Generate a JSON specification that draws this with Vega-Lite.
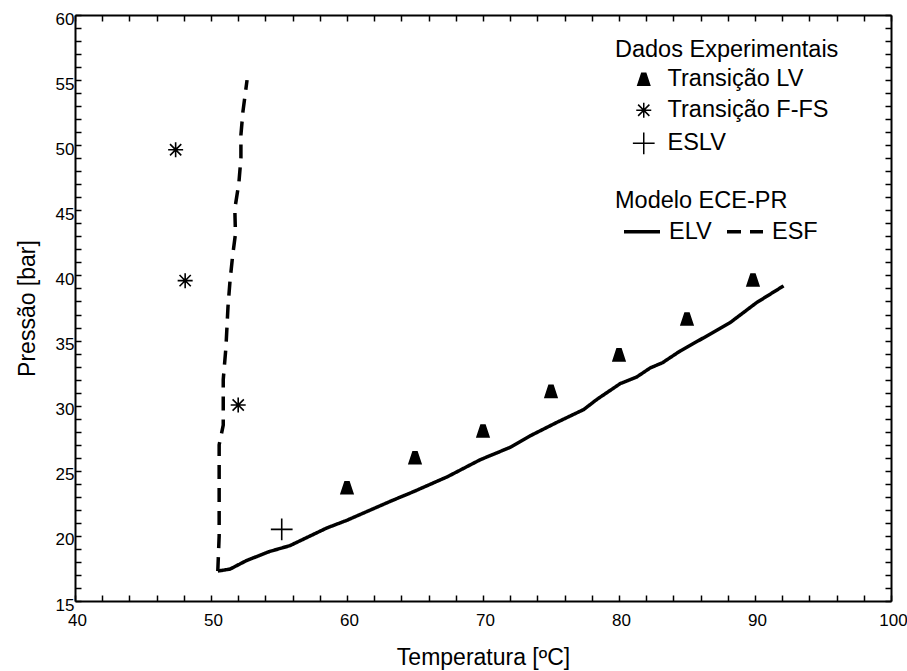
{
  "$schema": "https://vega.github.io/schema/vega-lite/v6.json",
  "width": 816,
  "height": 586,
  "autosize": "none",
  "padding": {"left": 75, "top": 15, "right": 16, "bottom": 70},
  "background": "white",
  "config": {
    "view": {"stroke": null},
    "font": "Liberation Sans",
    "axis": {
      "domainColor": "black",
      "domainWidth": 2,
      "tickColor": "black",
      "tickWidth": 1.5,
      "tickSize": -6,
      "grid": false,
      "labelFont": "Liberation Sans",
      "labelFontSize": 17,
      "labelColor": "black",
      "titleFont": "Liberation Sans",
      "titleFontSize": 23,
      "titleFontWeight": "normal",
      "titleColor": "black",
      "labelFlush": false,
      "labelOverlap": false
    },
    "legend": {
      "titleFont": "Liberation Sans",
      "titleFontSize": 23.5,
      "titleFontWeight": "normal",
      "titleColor": "black",
      "titleLimit": 400,
      "labelFont": "Liberation Sans",
      "labelFontSize": 23.5,
      "labelColor": "black",
      "labelLimit": 400,
      "padding": 0
    }
  },
  "datasets": {
    "curves": [
      {"modelo": "ELV", "T": 50.5, "P": 17.3},
      {"modelo": "ELV", "T": 51.4, "P": 17.45},
      {"modelo": "ELV", "T": 52.6, "P": 18.1},
      {"modelo": "ELV", "T": 54.3, "P": 18.8},
      {"modelo": "ELV", "T": 55.8, "P": 19.25},
      {"modelo": "ELV", "T": 57.1, "P": 19.9},
      {"modelo": "ELV", "T": 58.5, "P": 20.6},
      {"modelo": "ELV", "T": 60.0, "P": 21.2},
      {"modelo": "ELV", "T": 61.2, "P": 21.75},
      {"modelo": "ELV", "T": 63.4, "P": 22.75},
      {"modelo": "ELV", "T": 64.9, "P": 23.4},
      {"modelo": "ELV", "T": 67.4, "P": 24.55},
      {"modelo": "ELV", "T": 69.8, "P": 25.85},
      {"modelo": "ELV", "T": 72.0, "P": 26.8},
      {"modelo": "ELV", "T": 73.5, "P": 27.7},
      {"modelo": "ELV", "T": 75.4, "P": 28.7},
      {"modelo": "ELV", "T": 77.4, "P": 29.7},
      {"modelo": "ELV", "T": 78.4, "P": 30.5},
      {"modelo": "ELV", "T": 80.1, "P": 31.7},
      {"modelo": "ELV", "T": 81.3, "P": 32.2},
      {"modelo": "ELV", "T": 82.3, "P": 32.9},
      {"modelo": "ELV", "T": 83.2, "P": 33.3},
      {"modelo": "ELV", "T": 84.5, "P": 34.2},
      {"modelo": "ELV", "T": 86.2, "P": 35.2},
      {"modelo": "ELV", "T": 88.2, "P": 36.4},
      {"modelo": "ELV", "T": 90.1, "P": 37.9},
      {"modelo": "ELV", "T": 92.1, "P": 39.2},
      {"modelo": "ESF", "T": 50.5, "P": 17.3},
      {"modelo": "ESF", "T": 50.6, "P": 20.0},
      {"modelo": "ESF", "T": 50.6, "P": 27.0},
      {"modelo": "ESF", "T": 50.9, "P": 28.5},
      {"modelo": "ESF", "T": 50.9, "P": 32.0},
      {"modelo": "ESF", "T": 51.1, "P": 34.5},
      {"modelo": "ESF", "T": 51.25, "P": 37.6},
      {"modelo": "ESF", "T": 51.4, "P": 39.6},
      {"modelo": "ESF", "T": 51.6, "P": 41.6},
      {"modelo": "ESF", "T": 51.8, "P": 43.2},
      {"modelo": "ESF", "T": 51.75, "P": 45.1},
      {"modelo": "ESF", "T": 52.05, "P": 47.1},
      {"modelo": "ESF", "T": 52.2, "P": 49.0},
      {"modelo": "ESF", "T": 52.2, "P": 50.8},
      {"modelo": "ESF", "T": 52.35, "P": 52.6},
      {"modelo": "ESF", "T": 52.65, "P": 55.0}
    ],
    "exp": [
      {"serie": "Transição LV", "T": 60.0, "P": 23.7},
      {"serie": "Transição LV", "T": 65.0, "P": 26.0},
      {"serie": "Transição LV", "T": 70.0, "P": 28.05},
      {"serie": "Transição LV", "T": 75.0, "P": 31.1},
      {"serie": "Transição LV", "T": 80.0, "P": 33.9},
      {"serie": "Transição LV", "T": 85.0, "P": 36.65},
      {"serie": "Transição LV", "T": 89.85, "P": 39.65},
      {"serie": "Transição F-FS", "T": 47.4, "P": 49.65},
      {"serie": "Transição F-FS", "T": 48.1, "P": 39.6},
      {"serie": "Transição F-FS", "T": 52.0, "P": 30.05},
      {"serie": "ESLV", "T": 55.2, "P": 20.5}
    ]
  },
  "layer": [
    {
      "data": {"name": "curves"},
      "mark": {"type": "line", "color": "black", "strokeWidth": 3.5, "strokeJoin": "round"},
      "encoding": {
        "x": {
          "field": "T", "type": "quantitative",
          "scale": {"domain": [40, 100], "nice": false, "zero": false},
          "axis": {
            "orient": "bottom",
            "title": "Temperatura [ºC]",
            "values": [40,42,44,46,48,50,52,54,56,58,60,62,64,66,68,70,72,74,76,78,80,82,84,86,88,90,92,94,96,98,100],
            "labelExpr": "datum.value % 10 === 0 ? datum.label : ''",
            "labelPadding": 17,
            "labelOffset": 2,
            "titlePadding": 18
          }
        },
        "y": {
          "field": "P", "type": "quantitative",
          "scale": {"domain": [15, 60], "nice": false, "zero": false},
          "axis": {
            "orient": "left",
            "title": "Pressão [bar]",
            "values": [15,16,17,18,19,20,21,22,23,24,25,26,27,28,29,30,31,32,33,34,35,36,37,38,39,40,41,42,43,44,45,46,47,48,49,50,51,52,53,54,55,56,57,58,59,60],
            "labelExpr": "datum.value % 5 === 0 ? datum.label : ''",
            "labelPadding": 7,
            "labelOffset": 4,
            "titlePadding": 16
          }
        },
        "order": {"field": "P", "type": "quantitative"},
        "strokeDash": {
          "field": "modelo", "type": "nominal",
          "scale": {"domain": ["ELV", "ESF"], "range": [[1, 0], [14, 9]]},
          "legend": {
            "title": "Modelo ECE-PR",
            "orient": "none",
            "legendX": 540,
            "legendY": 174,
            "direction": "horizontal",
            "symbolType": "stroke",
            "symbolSize": 1296,
            "symbolStrokeWidth": 3.5,
            "symbolStrokeColor": "black",
            "symbolOffset": 7,
            "labelOffset": 7,
            "columnPadding": 6,
            "titlePadding": -1
          }
        }
      }
    },
    {
      "data": {"name": "exp"},
      "mark": {"type": "point", "size": 225, "strokeWidth": 1.6, "stroke": "black", "opacity": 1},
      "encoding": {
        "x": {
          "field": "T", "type": "quantitative",
          "axis": {
            "orient": "top", "title": null, "labels": false,
            "values": [40,42,44,46,48,50,52,54,56,58,60,62,64,66,68,70,72,74,76,78,80,82,84,86,88,90,92,94,96,98,100]
          }
        },
        "y": {
          "field": "P", "type": "quantitative",
          "axis": {
            "orient": "right", "title": null, "labels": false,
            "values": [15,16,17,18,19,20,21,22,23,24,25,26,27,28,29,30,31,32,33,34,35,36,37,38,39,40,41,42,43,44,45,46,47,48,49,50,51,52,53,54,55,56,57,58,59,60]
          }
        },
        "shape": {
          "field": "serie", "type": "nominal",
          "scale": {
            "domain": ["Transição LV", "Transição F-FS", "ESLV"],
            "range": [
              "M-0.27,-0.8L0.27,-0.8L0.8,0.8L-0.8,0.8Z",
              "M0,-1L0,1M-1,0L1,0M-0.75,-0.75L0.75,0.75M-0.75,0.75L0.75,-0.75",
              "M-1.45,0L1.45,0M0,-1.45L0,1.45"
            ]
          },
          "legend": {
            "title": "Dados Experimentais",
            "orient": "none",
            "legendX": 540,
            "legendY": 23,
            "symbolOffset": 17,
            "symbolSize": 225,
            "labelOffset": 12,
            "rowPadding": 6,
            "titlePadding": 6,
            "encode": {
              "symbols": {
                "update": {
                  "stroke": {"value": "black"},
                  "strokeWidth": {"value": 1.6}
                }
              }
            }
          }
        },
        "fill": {
          "field": "serie", "type": "nominal",
          "scale": {
            "domain": ["Transição LV", "Transição F-FS", "ESLV"],
            "range": ["black", "transparent", "transparent"]
          },
          "legend": {
            "title": "Dados Experimentais",
            "orient": "none",
            "legendX": 540,
            "legendY": 23,
            "symbolOffset": 17,
            "symbolSize": 225,
            "labelOffset": 12,
            "rowPadding": 6,
            "titlePadding": 6,
            "encode": {
              "symbols": {
                "update": {
                  "stroke": {"value": "black"},
                  "strokeWidth": {"value": 1.6}
                }
              }
            }
          }
        }
      }
    }
  ],
  "resolve": {"axis": {"x": "independent", "y": "independent"}}
}
